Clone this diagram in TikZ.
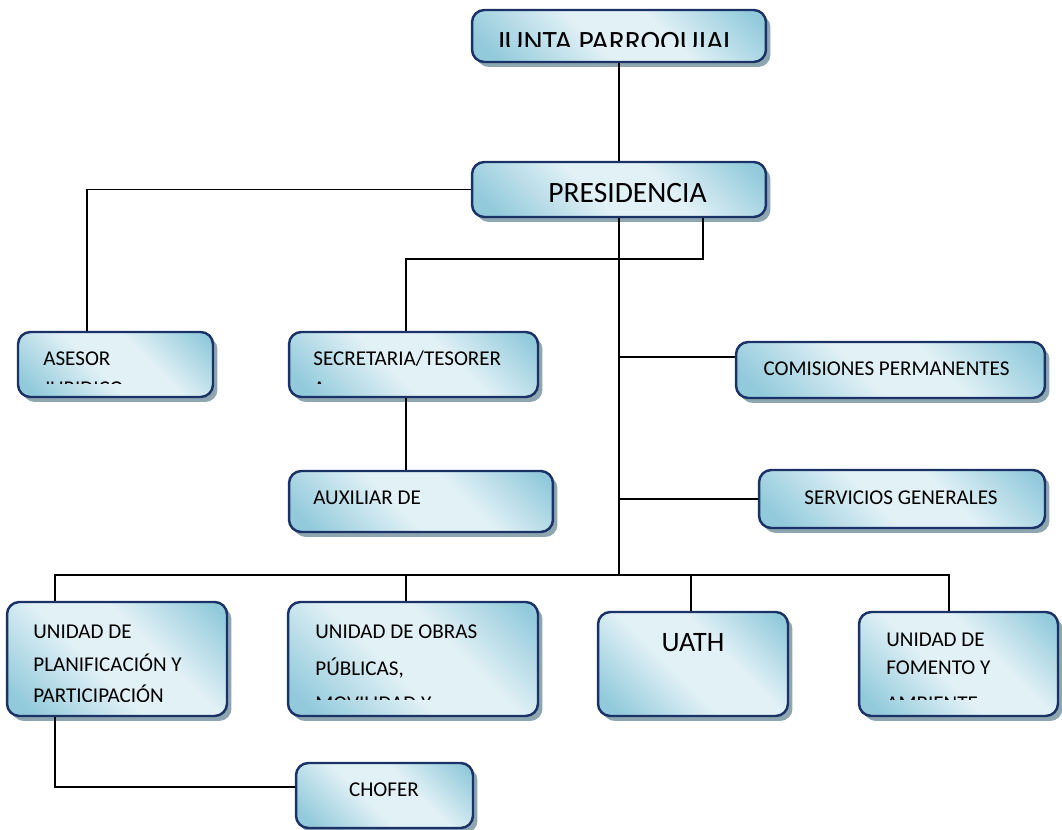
\documentclass[tikz,border=0pt]{standalone}
\usepackage{fontspec}
\setmainfont{Carlito}
\usepackage{tikz}
\usetikzlibrary{shadows,positioning,calc}
\definecolor{OrgNavy}{HTML}{1B3266}
\definecolor{BoxBlue}{HTML}{92CADB}
\definecolor{BoxLight}{HTML}{E2F1F6}
\definecolor{ShadowGray}{HTML}{8EA6B0}
\pgfdeclarehorizontalshading{boxglow}{100bp}{color(0bp)=(BoxBlue); color(20bp)=(BoxBlue); color(44bp)=(BoxLight); color(60bp)=(BoxLight); color(82bp)=(BoxBlue); color(100bp)=(BoxBlue)}
\tikzset{
  orgbox/.style={rectangle,rounded corners=7pt,draw=OrgNavy,line width=1.4pt,shading=boxglow,shading angle=45,drop shadow={shadow xshift=0.09cm,shadow yshift=-0.1cm,fill=ShadowGray,opacity=1}},
  boxtext/.style={inner sep=0pt,anchor=base west,font=\fontsize{12}{14}\selectfont},
  midtext/.style={inner sep=0pt,anchor=base,font=\fontsize{12}{14}\selectfont},
  bigtext/.style={inner sep=0pt,anchor=base,font=\fontsize{16.8}{19}\selectfont},
  link/.style={line width=1.1pt,color=black},
}
\begin{document}
\begin{tikzpicture}[x=0.02cm,y=-0.02cm]
  \useasboundingbox (0,0) rectangle (1062,830);

  \node[orgbox, minimum width=5.88cm, minimum height=1.04cm] (junta) at (619,36) {};
  \node[orgbox, minimum width=5.88cm, minimum height=1.10cm] (pres) at (619,189.5) {};
  \node[orgbox, minimum width=3.90cm, minimum height=1.30cm] (asesor) at (115.5,364.5) {};
  \node[orgbox, minimum width=4.98cm, minimum height=1.30cm] (secret) at (413.5,364.5) {};
  \node[orgbox, minimum width=5.28cm, minimum height=1.22cm] (aux) at (421,501.5) {};
  \node[orgbox, minimum width=6.18cm, minimum height=1.12cm] (comis) at (890.5,370) {};
  \node[orgbox, minimum width=5.72cm, minimum height=1.16cm] (serv) at (902,499) {};
  \node[orgbox, minimum width=4.40cm, minimum height=2.28cm] (planif) at (117,659) {};
  \node[orgbox, minimum width=5.00cm, minimum height=2.28cm] (obras) at (413,659) {};
  \node[orgbox, minimum width=3.80cm, minimum height=2.08cm] (uath) at (693,664) {};
  \node[orgbox, minimum width=3.98cm, minimum height=2.08cm] (foment) at (958.5,664) {};
  \node[orgbox, minimum width=3.54cm, minimum height=1.30cm] (chofer) at (384.5,795.5) {};

  \begin{scope}
    \clip (472,10) rectangle (766,47);
    \node[bigtext] (juntatxt) at (615.5,52) {JUNTA PARROQUIAL};
  \end{scope}
  \node[bigtext] (prestxt) at (627.5,203) {PRESIDENCIA};
  \begin{scope}
    \clip (18,332) rectangle (213,383.5);
    \node[boxtext] (asesortxt) at (43,366) {ASESOR};
    \node[boxtext] (asesortxtb) at (43,396) {JURIDICO};
  \end{scope}
  \begin{scope}
    \clip (289,332) rectangle (538,383.5);
    \node[boxtext] (secrettxt) at (313,366) {SECRETARIA/TESORER};
    \node[boxtext] (secrettxtb) at (313,396) {A};
  \end{scope}
  \node[boxtext] (auxtxt) at (313,505) {AUXILIAR DE};
  \node[midtext] (comistxt) at (886.5,376) {COMISIONES PERMANENTES};
  \node[midtext] (servtxt) at (901,505) {SERVICIOS GENERALES};
  \begin{scope}
    \clip (7,602) rectangle (227,702);
    \node[boxtext] (planiftxt) at (33,639) {UNIDAD DE};
    \node[boxtext] (planiftxtb) at (33,672) {PLANIFICACIÓN Y};
    \node[boxtext] (planiftxtc) at (33,703) {PARTICIPACIÓN};
  \end{scope}
  \begin{scope}
    \clip (288,602) rectangle (538,700);
    \node[boxtext] (obrastxt) at (315,639) {UNIDAD DE OBRAS};
    \node[boxtext] (obrastxtb) at (315,676) {PÚBLICAS,};
    \node[boxtext] (obrastxtc) at (315,711) {MOVILIDAD Y};
  \end{scope}
  \node[inner sep=0pt, anchor=base, font=\fontsize{16}{18}\selectfont] (uathtxt) at (693,652) {UATH};
  \begin{scope}
    \clip (859,602) rectangle (1062,700);
    \node[boxtext] (fomenttxt) at (886,647) {UNIDAD DE};
    \node[boxtext] (fomenttxtb) at (886,675) {FOMENTO Y};
    \node[boxtext] (fomenttxtc) at (886,711) {AMBIENTE};
  \end{scope}
  \node[midtext] (chofertxt) at (384,797) {CHOFER};

  \coordinate (bus) at (619,575);
  \coordinate (cjoin) at ([yshift=0.26cm]comis.west);
  \coordinate (fjoin) at ([yshift=0.17cm]chofer.west);

  \draw[link] (junta) -- (pres);
  \draw[link] (pres.west) -| ([xshift=-0.57cm]asesor.north);
  \draw[link] ([xshift=1.68cm]pres.south) -- ++(0,41) -| ([xshift=-0.15cm]secret.north);
  \draw[link] ([xshift=-0.15cm]secret.south) -- ([xshift=-0.15cm]secret.south |- aux.north);
  \draw[link] (pres.south) -- (bus);
  \draw[link] (cjoin) -- (cjoin -| pres.south);
  \draw[link] (serv.west) -- (serv.west -| pres.south);
  \draw[link] (bus) -| ([xshift=-1.24cm]planif.north);
  \draw[link] (bus) -| ([xshift=-0.14cm]obras.north);
  \draw[link] (bus) -| ([xshift=-0.04cm]uath.north);
  \draw[link] (bus) -| ([xshift=-0.19cm]foment.north);
  \draw[link] ([xshift=-1.24cm]planif.south) |- (fjoin);
\end{tikzpicture}
\end{document}
